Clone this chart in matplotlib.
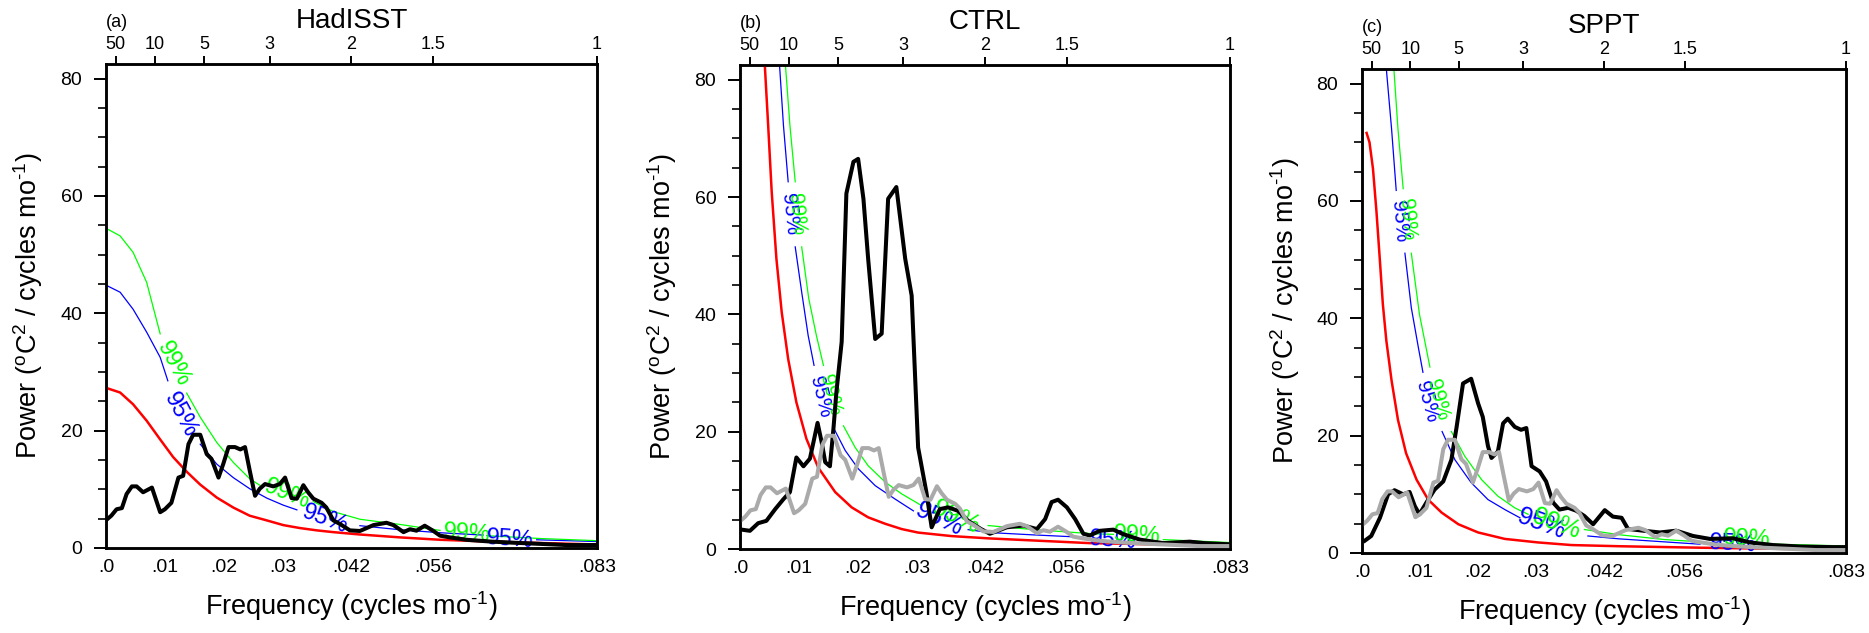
import numpy as np
import matplotlib
matplotlib.use("Agg")
import matplotlib.pyplot as plt

plt.rcParams['font.family'] = ['Liberation Sans', 'DejaVu Sans']
plt.rcParams['mathtext.fontset'] = 'custom'
plt.rcParams['mathtext.rm'] = 'Liberation Sans'

nan = np.nan

# HadISST spectrum (black in a, grey in b and c)
had_f = [0.0002, 0.0009, 0.0018, 0.0027, 0.0035, 0.0044, 0.0052, 0.0063, 0.0078, 0.0092,
         0.0100, 0.0111, 0.0123, 0.0131, 0.0140, 0.0148, 0.0160, 0.0171, 0.0179, 0.0191,
         0.0199, 0.0208, 0.0219, 0.0228, 0.0236, 0.0244, 0.0253, 0.0261, 0.0270, 0.0284,
         0.0295, 0.0304, 0.0315, 0.0324, 0.0335, 0.0343, 0.0352, 0.0366, 0.0374, 0.0386,
         0.0397, 0.0414, 0.0431, 0.0454, 0.0476, 0.0488, 0.0505, 0.0516, 0.0527, 0.0541,
         0.0555, 0.0567, 0.0584, 0.0612, 0.0652, 0.0691, 0.0737, 0.0782, 0.0818, 0.0833]
had_p = [4.9, 5.5, 6.6, 6.8, 9.2, 10.5, 10.5, 9.5, 10.3, 6.1,
         6.6, 7.7, 12.0, 12.3, 17.7, 19.3, 19.3, 16.0, 15.2, 12.0,
         14.3, 17.2, 17.2, 16.8, 17.2, 13.2, 8.9, 10.1, 10.9, 10.5,
         10.9, 12.0, 8.5, 8.4, 10.7, 9.5, 8.4, 7.7, 6.9, 4.7,
         4.1, 3.0, 2.9, 3.9, 4.3, 3.9, 2.7, 3.2, 2.95, 3.8,
         2.95, 2.1, 1.8, 1.4, 1.1, 0.9, 0.7, 0.5, 0.5, 0.5]

ctrl_f = [0.0003, 0.0017, 0.0031, 0.0045, 0.0060, 0.0074, 0.0085, 0.0096, 0.0108, 0.0119,
          0.0125, 0.0132, 0.0139, 0.0145, 0.0153, 0.0159, 0.0164, 0.0173, 0.0181, 0.0193,
          0.0201, 0.0210, 0.0218, 0.0230, 0.0241, 0.0252, 0.0266, 0.0281, 0.0292, 0.0303,
          0.0317, 0.0326, 0.0340, 0.0354, 0.0371, 0.0388, 0.0410, 0.0425, 0.0454, 0.0482,
          0.0505, 0.0519, 0.0530, 0.0541, 0.0556, 0.0570, 0.0584, 0.0595, 0.0612, 0.0635,
          0.0650, 0.0680, 0.0720, 0.0765, 0.0790, 0.0822, 0.0833]
ctrl_p = [3.3, 3.1, 4.4, 4.8, 6.8, 8.5, 9.7, 15.6, 14.1, 15.4,
          18.2, 21.5, 18.2, 14.8, 14.1, 20.5, 26.7, 35.3, 60.6, 66.0,
          66.5, 59.7, 49.5, 35.8, 36.7, 59.7, 61.7, 49.5, 43.2, 17.3,
          9.7, 3.7, 6.8, 7.1, 6.5, 4.8, 3.4, 2.6, 3.7, 4.0,
          3.4, 5.1, 8.0, 8.4, 7.1, 5.1, 2.6, 2.3, 3.1, 3.3,
          2.6, 1.6, 1.0, 1.25, 1.0, 0.85, 0.8]

sppt_f = [0.0005, 0.0016, 0.0031, 0.0045, 0.0056, 0.0071, 0.0082, 0.0091, 0.0099, 0.0111,
          0.0125, 0.0140, 0.0154, 0.0163, 0.0174, 0.0188, 0.0200, 0.0208, 0.0217, 0.0223,
          0.0234, 0.0243, 0.0251, 0.0263, 0.0274, 0.0283, 0.0292, 0.0306, 0.0317, 0.0329,
          0.0340, 0.0355, 0.0369, 0.0383, 0.0398, 0.0418, 0.0432, 0.0447, 0.0458, 0.0484,
          0.0513, 0.0541, 0.0570, 0.0599, 0.0639, 0.0668, 0.0708, 0.0754, 0.0811, 0.0833]
sppt_p = [2.1, 2.9, 6.0, 10.0, 10.7, 10.0, 10.4, 8.0, 6.6, 8.6,
          10.8, 12.2, 15.9, 21.5, 28.9, 29.7, 25.5, 23.2, 18.2, 16.2,
          17.3, 22.1, 22.9, 21.5, 21.0, 21.3, 14.8, 13.9, 12.2, 8.6,
          7.4, 7.7, 7.2, 6.3, 4.9, 7.3, 6.2, 6.0, 4.1, 3.8,
          3.5, 3.8, 2.9, 2.4, 2.5, 1.8, 1.35, 1.1, 1.0, 1.0]

# red-noise curves and 95% / 99% levels (nan = gap for the line label)
red_a_f = [0.0, 0.0024, 0.0046, 0.0069, 0.0092, 0.0114, 0.0137, 0.0160, 0.0188, 0.0216, 0.0244,
           0.0273, 0.0301, 0.0329, 0.0358, 0.0386, 0.0431, 0.0500, 0.0567, 0.0650, 0.0737, 0.0833]
red_a_p = [27.3, 26.5, 24.5, 21.7, 18.5, 15.5, 13.0, 10.8, 8.6, 6.9, 5.5,
           4.7, 3.9, 3.4, 3.0, 2.7, 2.3, 1.8, 1.4, 1.1, 0.85, 0.6]
c95_a_f = [0.0, 0.0024, 0.0046, 0.0069, 0.0092, 0.0105, 0.0130, 0.0160, 0.0188, 0.0216, 0.0244,
           0.0273, 0.0301, 0.0324, 0.0370, 0.0431, 0.0500, 0.0567, 0.0640, 0.0686, 0.0731, 0.0833]
c95_a_p = [44.8, 43.6, 40.7, 36.8, 32.5, 28.5, nan, 17.7, 14.3, 12.0, 10.1,
           8.5, 7.3, 6.5, nan, 3.8, 3.1, 2.6, 2.2, nan, 1.4, 1.1]
c99_a_f = [0.0, 0.0024, 0.0046, 0.0069, 0.0092, 0.0115, 0.0137, 0.0160, 0.0188, 0.0216, 0.0244,
           0.0261, 0.0300, 0.0352, 0.0386, 0.0431, 0.0500, 0.0567, 0.0610, 0.0646, 0.0740, 0.0833]
c99_a_p = [54.5, 53.2, 50.4, 45.3, 36.5, nan, 26.4, 22.3, 18.0, 14.6, 11.8,
           10.7, nan, 7.9, 6.2, 4.9, 4.0, 3.0, nan, 2.1, 1.6, 1.25]

red_b_f = [0.0042, 0.0048, 0.0054, 0.0062, 0.0071, 0.0082, 0.0096, 0.0113, 0.0133, 0.0162,
           0.0190, 0.0218, 0.0247, 0.0275, 0.0303, 0.0360, 0.0425, 0.0595, 0.0833]
red_b_p = [83.0, 72.2, 60.9, 49.5, 40.4, 32.4, 25.0, 18.8, 13.9, 9.7,
           7.1, 5.4, 4.3, 3.4, 2.8, 2.2, 1.8, 1.0, 0.55]
c95_b_f = [0.0067, 0.0074, 0.0082, 0.0088, 0.0094, 0.0105, 0.0116, 0.0126, 0.0143, 0.0160, 0.0179,
           0.0201, 0.0230, 0.0264, 0.0295, 0.0340, 0.0388, 0.0425, 0.0500, 0.0584, 0.0635, 0.0690, 0.0833]
c95_b_p = [83.0, 72.2, 62.6, nan, 51.5, 43.8, 36.4, 31.3, nan, 20.5, 16.8,
           13.7, 10.8, 8.5, 6.5, nan, 3.3, 2.8, 2.4, 2.0, nan, 1.3, 0.9]
c99_b_f = [0.0077, 0.0085, 0.0094, 0.0100, 0.0105, 0.0117, 0.0130, 0.0142, 0.0160, 0.0176, 0.0196,
           0.0218, 0.0247, 0.0275, 0.0309, 0.0370, 0.0422, 0.0500, 0.0600, 0.0635, 0.0675, 0.0720, 0.0833]
c99_b_p = [83.0, 72.2, 62.6, nan, 51.5, 42.7, 36.4, 31.3, nan, 21.0, 17.3,
           14.2, 11.4, 9.4, 7.4, nan, 4.0, 3.3, 2.6, 2.5, nan, 1.6, 1.1]

red_c_f = [0.0008, 0.0013, 0.0019, 0.0025, 0.0031, 0.0036, 0.0042, 0.0051, 0.0062, 0.0076, 0.0094,
           0.0114, 0.0137, 0.0166, 0.0200, 0.0246, 0.0303, 0.0361, 0.0444, 0.0582, 0.0833]
red_c_p = [71.6, 70.0, 65.5, 58.2, 49.7, 42.4, 36.2, 29.4, 22.7, 17.0, 12.5,
           9.1, 6.9, 4.9, 3.5, 2.4, 1.8, 1.35, 1.15, 0.9, 0.55]
c95_c_f = [0.0042, 0.0051, 0.0059, 0.0066, 0.0074, 0.0085, 0.0097, 0.0105, 0.0121, 0.0138, 0.0160,
           0.0188, 0.0217, 0.0246, 0.0272, 0.0310, 0.0389, 0.0444, 0.0520, 0.0582, 0.0640, 0.0700, 0.0833]
c95_c_p = [82.5, 72.3, 61.8, nan, 51.1, 41.8, 35.1, 30.8, nan, 20.7, 15.9,
           12.0, 9.1, 7.4, 6.0, nan, 2.9, 2.4, 1.9, 1.5, nan, 1.2, 0.9]
c99_c_f = [0.0055, 0.0062, 0.0071, 0.0078, 0.0085, 0.0099, 0.0117, 0.0135, 0.0154, 0.0177, 0.0206,
           0.0234, 0.0263, 0.0286, 0.0330, 0.0383, 0.0444, 0.0520, 0.0582, 0.0660, 0.0710, 0.0833]
c99_c_p = [82.5, 72.3, 62.1, nan, 51.1, 40.7, 31.7, nan, 20.7, 16.5, 12.5,
           9.7, 7.7, 6.6, nan, 4.0, 3.1, 2.3, 1.9, nan, 1.5, 1.2]

# line labels: (text, colour, freq, power, angle, size)
labels_a = [("99%", "#00ff00", 0.0114, 31.4, -62, 17), ("95%", "#0000ff", 0.0126, 22.6, -62, 17),
            ("99%", "#00ff00", 0.0307, 9.2, -22, 17), ("95%", "#0000ff", 0.0372, 4.9, -20, 17),
            ("99%", "#00ff00", 0.0612, 2.4, -4, 17), ("95%", "#0000ff", 0.0686, 1.4, -4, 17)]
labels_b = [("95%", "#0000ff", 0.0085, 57.0, -84, 15), ("99%", "#00ff00", 0.0097, 57.0, -84, 15),
            ("95%", "#0000ff", 0.0136, 25.9, -76, 15), ("99%", "#00ff00", 0.0153, 26.2, -76, 15),
            ("95%", "#0000ff", 0.0340, 5.1, -25, 18), ("99%", "#00ff00", 0.0369, 5.4, -25, 18),
            ("95%", "#0000ff", 0.0635, 1.4, -4, 17), ("99%", "#00ff00", 0.0675, 2.2, -4, 17)]
labels_c = [("95%", "#0000ff", 0.0065, 56.5, -85, 15), ("99%", "#00ff00", 0.0078, 56.8, -85, 15),
            ("95%", "#0000ff", 0.0112, 25.8, -75, 15), ("99%", "#00ff00", 0.0131, 26.1, -75, 15),
            ("95%", "#0000ff", 0.0309, 4.9, -20, 18), ("99%", "#00ff00", 0.0336, 4.9, -20, 18),
            ("95%", "#0000ff", 0.0639, 1.5, -3, 17), ("99%", "#00ff00", 0.0662, 2.3, -3, 17)]

bottom_ticks = [0.0, 0.01, 0.02, 0.03, 1 / 24, 1 / 18, 1 / 12]
bottom_labels = [".0", ".01", ".02", ".03", ".042", ".056", ".083"]
periods = [50, 10, 5, 3, 2, 1.5, 1]
period_labels = ["50", "10", "5", "3", "2", "1.5", "1"]

fig = plt.figure(figsize=(18.69, 6.33), dpi=100)
boxes = [[0.0567, 0.1343, 0.2627, 0.7646],
         [0.3959, 0.1327, 0.2622, 0.7646],
         [0.7287, 0.1264, 0.2590, 0.7646]]

panels = [
    ("(a)", "HadISST", (had_f, had_p), None, (red_a_f, red_a_p), (c95_a_f, c95_a_p), (c99_a_f, c99_a_p), labels_a),
    ("(b)", "CTRL", (ctrl_f, ctrl_p), (had_f, had_p), (red_b_f, red_b_p), (c95_b_f, c95_b_p), (c99_b_f, c99_b_p), labels_b),
    ("(c)", "SPPT", (sppt_f, sppt_p), (had_f, had_p), (red_c_f, red_c_p), (c95_c_f, c95_c_p), (c99_c_f, c99_c_p), labels_c),
]

xlab = "Frequency (cycles mo$\\mathregular{^{\u20101}}$)"
ylab = "Power ($\\mathregular{^oC^2}$ / cycles mo$\\mathregular{^{\u20101}}$)"

for box, (tag, title, spec, obs, red, c95, c99, labs) in zip(boxes, panels):
    ax = fig.add_axes(box)
    ax.plot(c95[0], c95[1], color="#0000ff", lw=0.9, zorder=2)
    ax.plot(c99[0], c99[1], color="#00ff00", lw=0.9, zorder=2)
    ax.plot(red[0], red[1], color="#ff0000", lw=1.8, zorder=3)
    ax.plot(spec[0], spec[1], color="black", lw=2.9, zorder=4)
    if obs is not None:
        ax.plot(obs[0], obs[1], color="#aaaaaa", lw=2.9, zorder=5)
    for txt, col, fx, py, ang, fs in labs:
        ax.text(fx, py, txt, color=col, fontsize=fs, rotation=ang, rotation_mode="anchor",
                ha="center", va="center", zorder=3)

    ax.set_xlim(0, 1 / 12)
    ax.set_ylim(0, 82.5)
    ax.set_xticks(bottom_ticks)
    ax.set_xticklabels(bottom_labels, fontsize=14)
    ax.set_yticks([0, 20, 40, 60, 80])
    ax.set_yticks(np.arange(0, 81, 5), minor=True)
    ax.tick_params(axis="y", which="major", length=9, width=1.4, pad=8, labelsize=14)
    ax.tick_params(axis="y", which="minor", length=5.5, width=1.2)
    ax.tick_params(axis="x", length=0, pad=8)
    for s in ax.spines.values():
        s.set_linewidth(1.8)

    top = ax.twiny()
    top.set_xlim(0, 1 / 12)
    top.set_xticks([1 / (12 * p) for p in periods])
    top.set_xticklabels(period_labels, fontsize=13)
    top.tick_params(axis="x", length=6, width=1.4, pad=2)
    for s in top.spines.values():
        s.set_linewidth(1.8)

    ax.set_xlabel(xlab, fontsize=19.5, va="center")
    ax.xaxis.set_label_coords(0.5, -0.12)
    ax.set_ylabel(ylab, fontsize=19.5, va="center")
    ax.yaxis.set_label_coords(-0.159, 0.5)
    ax.text(0.5, 1.089, title, transform=ax.transAxes, ha="center", va="center", fontsize=20)
    ax.text(0.0, 1.085, tag, transform=ax.transAxes, ha="left", va="center", fontsize=13)

fig.savefig("out.png", dpi=100)
